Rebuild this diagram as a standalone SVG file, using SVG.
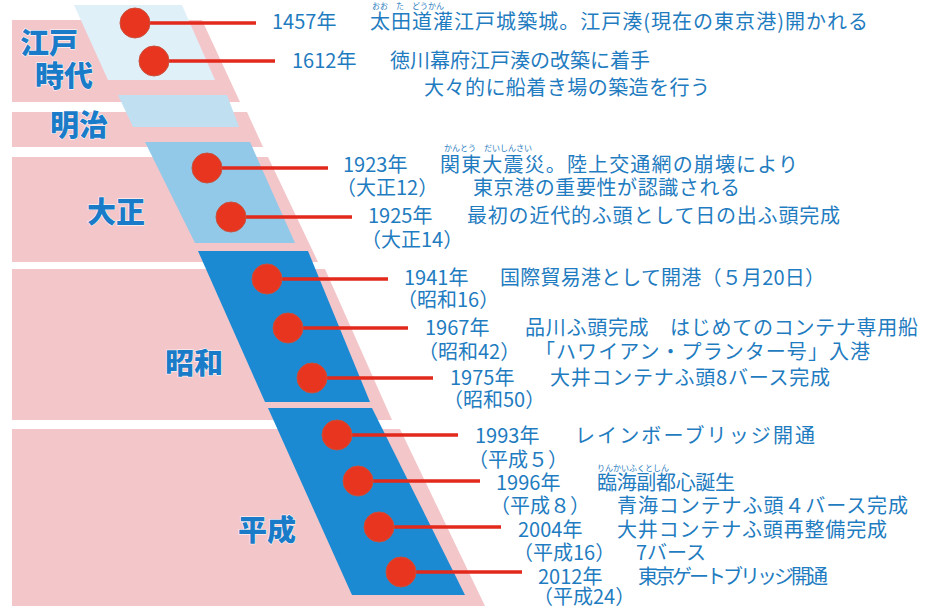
<svg xmlns="http://www.w3.org/2000/svg" width="944" height="606" viewBox="0 0 944 606">
<style>
.pink{fill:#f3c6ca}
.t{font-family:"Noto Sans CJK JP","Noto Sans",sans-serif;font-size:20px;fill:#1f7cc0}
.r{font-family:"Noto Sans CJK JP",sans-serif;font-size:8px;fill:#1f7cc0}
.era{font-family:"Noto Sans CJK JP",sans-serif;font-size:29px;font-weight:900;fill:#1a7cc8;stroke:#ffffff;stroke-width:1;paint-order:stroke}
.ln{stroke:#e2291b;stroke-width:3.5;fill:none}
.dot{fill:#e8351f;stroke:#c9503c;stroke-width:1}
</style>
<rect width="944" height="606" fill="#ffffff"/>
<g id="bands">
<polygon class="pink" points="12,20 202,20 240,102 12,102"/>
<polygon class="pink" points="12,112 247,112 263,147 12,147"/>
<polygon class="pink" points="12,157 268,157 318,262 12,262"/>
<polygon class="pink" points="12,269 325,269 392,420 12,420"/>
<polygon class="pink" points="12,429 400,429 485,606 12,606"/>
<polygon fill="#e0f0f9" points="74,5 182,5 215,80 108,80"/>
<polygon fill="#c0e0f2" points="118,95 227,95 239,127 133,127"/>
<polygon fill="#92c8e8" points="145,142 250,142 295,243 195,243"/>
<polygon fill="#1b8ad3" points="198,251 308,251 370,402 265,402"/>
<polygon fill="#1b8ad3" points="268,408 372,408 465,595 352,595"/>
</g>
<g id="eras">
<text class="era" x="20" y="54">江戸</text>
<text class="era" x="35" y="87">時代</text>
<text class="era" x="50" y="136">明治</text>
<text class="era" x="87" y="223">大正</text>
<text class="era" x="165" y="374">昭和</text>
<text class="era" x="238" y="541">平成</text>
</g>
<g id="connectors">
<line class="ln" x1="135" y1="23" x2="256" y2="23"/>
<line class="ln" x1="154" y1="61" x2="275" y2="61"/>
<line class="ln" x1="207" y1="168" x2="328" y2="168"/>
<line class="ln" x1="231" y1="217" x2="352" y2="217"/>
<line class="ln" x1="267" y1="279" x2="388" y2="279"/>
<line class="ln" x1="288" y1="328" x2="408" y2="328"/>
<line class="ln" x1="312" y1="378" x2="433" y2="378"/>
<line class="ln" x1="337" y1="435" x2="458" y2="435"/>
<line class="ln" x1="358" y1="481" x2="480" y2="481"/>
<line class="ln" x1="379" y1="527" x2="501" y2="527"/>
<line class="ln" x1="401" y1="572" x2="522" y2="572"/>
</g>
<g id="dots">
<circle class="dot" cx="135" cy="23" r="15"/>
<circle class="dot" cx="154" cy="61" r="15"/>
<circle class="dot" cx="207" cy="168" r="15"/>
<circle class="dot" cx="231" cy="217" r="15"/>
<circle class="dot" cx="267" cy="279" r="15"/>
<circle class="dot" cx="288" cy="328" r="15"/>
<circle class="dot" cx="312" cy="378" r="15"/>
<circle class="dot" cx="337" cy="435" r="15"/>
<circle class="dot" cx="358" cy="481" r="15"/>
<circle class="dot" cx="379" cy="527" r="15"/>
<circle class="dot" cx="401" cy="572" r="15"/>
</g>
<g id="e1457">
<text class="t" x="272" y="29">1457年</text>
<text class="r" x="372" y="9">おお　た　どうかん</text>
<text class="t" x="370" y="29" textLength="498">太田道灌江戸城築城。江戸湊(現在の東京港)開かれる</text>
</g>
<g id="e1612">
<text class="t" x="292" y="68">1612年</text>
<text class="t" x="390" y="68" textLength="260">徳川幕府江戸湊の改築に着手</text>
<text class="t" x="424" y="95" textLength="286">大々的に船着き場の築造を行う</text>
</g>
<g id="e1923">
<text class="t" x="343" y="172">1923年</text>
<text class="r" x="444" y="151">かんとう　だいしんさい</text>
<text class="t" x="440" y="172" textLength="358">関東大震災。陸上交通網の崩壊により</text>
<text class="t" x="336" y="195">（大正12）</text>
<text class="t" x="473" y="195" textLength="267">東京港の重要性が認識される</text>
</g>
<g id="e1925">
<text class="t" x="368" y="223">1925年</text>
<text class="t" x="467" y="223" textLength="373">最初の近代的ふ頭として日の出ふ頭完成</text>
<text class="t" x="361" y="247">（大正14）</text>
</g>
<g id="e1941">
<text class="t" x="404" y="285">1941年</text>
<text class="t" x="500" y="285" textLength="325">国際貿易港として開港（５月20日）</text>
<text class="t" x="397" y="307">（昭和16）</text>
</g>
<g id="e1967">
<text class="t" x="425" y="335">1967年</text>
<text class="t" x="525" y="335" textLength="393">品川ふ頭完成　はじめてのコンテナ専用船</text>
<text class="t" x="418" y="359">（昭和42）</text>
<text class="t" x="535" y="359" textLength="335">「ハワイアン・プランター号」入港</text>
</g>
<g id="e1975">
<text class="t" x="450" y="385">1975年</text>
<text class="t" x="550" y="385" textLength="280">大井コンテナふ頭8バース完成</text>
<text class="t" x="443" y="407">（昭和50）</text>
</g>
<g id="e1993">
<text class="t" x="475" y="443">1993年</text>
<text class="t" x="575" y="443" textLength="240">レインボーブリッジ開通</text>
<text class="t" x="468" y="467">（平成５）</text>
</g>
<g id="e1996">
<text class="t" x="496" y="490">1996年</text>
<text class="r" x="597" y="471">りんかいふくとしん</text>
<text class="t" x="597" y="490" textLength="138">臨海副都心誕生</text>
<text class="t" x="490" y="513">（平成８）</text>
<text class="t" x="617" y="513" textLength="291">青海コンテナふ頭４バース完成</text>
</g>
<g id="e2004">
<text class="t" x="518" y="537">2004年</text>
<text class="t" x="617" y="537" textLength="270">大井コンテナふ頭再整備完成</text>
<text class="t" x="513" y="560">（平成16）</text>
<text class="t" x="636" y="560">7バース</text>
</g>
<g id="e2012">
<text class="t" x="538" y="584">2012年</text>
<text class="t" x="638" y="584" textLength="190">東京ゲートブリッジ開通</text>
<text class="t" x="533" y="604">（平成24）</text>
</g>
</svg>
